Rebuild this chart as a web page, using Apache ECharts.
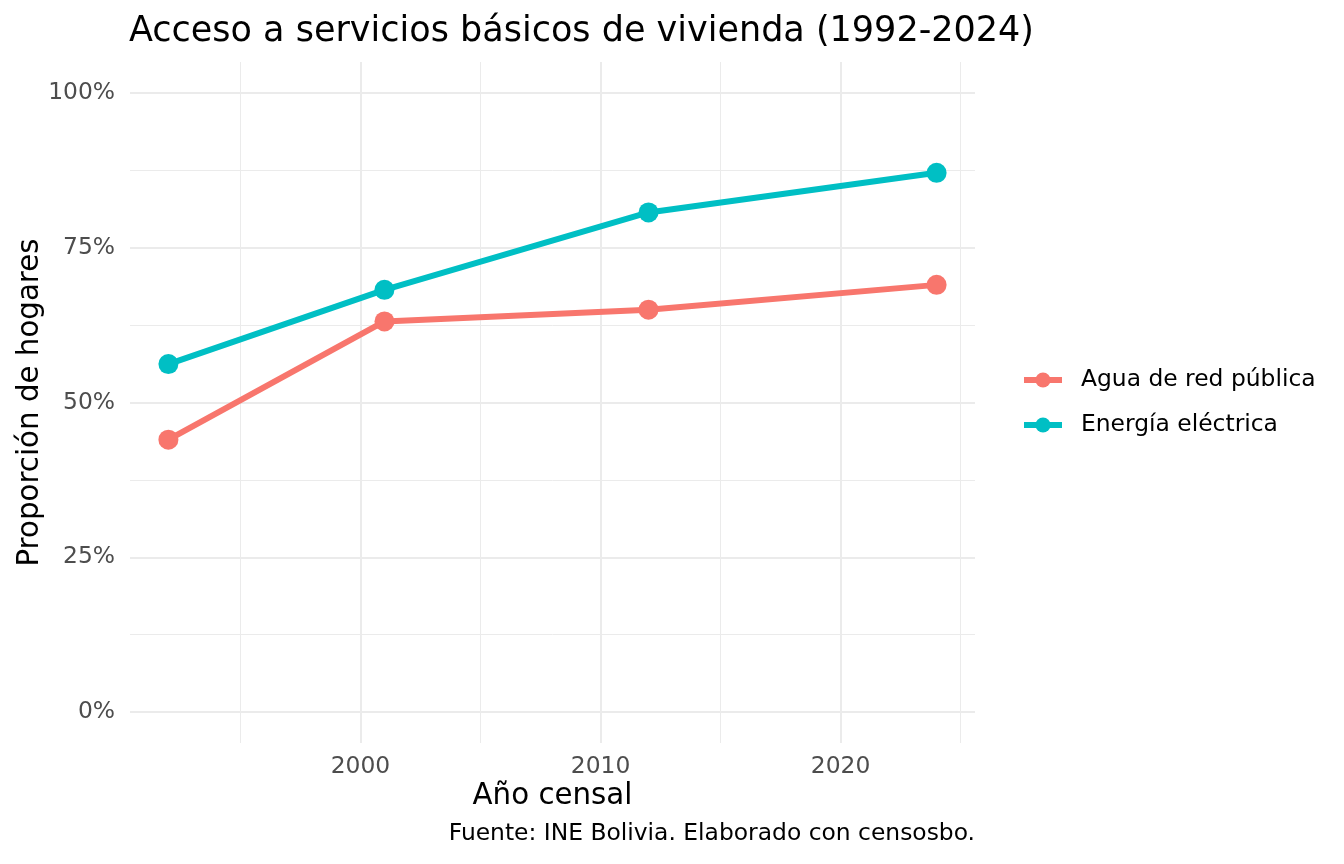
<!DOCTYPE html>
<html>
<head>
<meta charset="utf-8">
<script src="https://cdn.jsdelivr.net/npm/echarts@6/dist/echarts.min.js"></script>
<style>
  html, body { margin: 0; padding: 0; background: #fff; }
  #chart { width: 1344px; height: 864px; }
</style>
</head>
<body>
<div id="chart"></div>
<script>
// datos
var years = [1992, 2001, 2012, 2024];
var agua = [0.440, 0.631, 0.650, 0.690];
var energia = [0.562, 0.682, 0.807, 0.871];
var seriesNames = ['Agua de red pública', 'Energía eléctrica'];
var xMajor = [2000, 2010, 2020];
var xMinor = [1995, 2005, 2015, 2025];
var yMajor = [0, 0.25, 0.5, 0.75, 1];
var yMinor = [0.125, 0.375, 0.625, 0.875];

var FONT = 'DejaVu Sans';
var GRID = '#ebebeb';

function pairs(xs, ys) {
  return xs.map(function (x, i) { return [x, ys[i]]; });
}

var myChart = echarts.init(document.getElementById('chart'), null, {renderer: 'canvas'});

myChart.setOption({
  animation: false,
  backgroundColor: '#ffffff',
  textStyle: {fontFamily: FONT},
  title: {
    text: 'Acceso a servicios básicos de vivienda (1992-2024)',
    left: 129,
    top: 14,
    padding: 0,
    textStyle: {fontFamily: FONT, fontSize: 35, fontWeight: 'normal', color: '#000'}
  },
  grid: {left: 130, right: 369, top: 62, bottom: 121, containLabel: false},
  legend: {
    orient: 'vertical',
    left: 1021,
    top: 367,
    padding: 0,
    data: seriesNames,
    itemWidth: 38,
    itemHeight: 19,
    itemGap: 19,
    lineStyle: {width: 6},
    textStyle: {fontFamily: FONT, fontSize: 23.4, lineHeight: 26, color: '#000', padding: [0, 0, 0, 14]}
  },
  xAxis: [{
    type: 'value',
    min: 1990.4,
    max: 2025.6,
    name: 'Año censal',
    nameLocation: 'middle',
    nameGap: 39,
    nameMoveOverlap: false,
    nameTextStyle: {fontFamily: FONT, fontSize: 29.3, color: '#000'},
    axisLine: {show: false},
    axisTick: {show: false, customValues: xMajor},
    axisLabel: {
      customValues: xMajor, margin: 12, fontFamily: FONT, fontSize: 23.4, color: '#4d4d4d',
      formatter: function (v) { return String(v); }
    },
    splitLine: {show: true, lineStyle: {color: GRID, width: 2}}
  }, {
    type: 'value',
    min: 1990.4,
    max: 2025.6,
    axisLine: {show: false},
    axisTick: {show: false, customValues: xMinor},
    axisLabel: {show: false},
    splitLine: {show: true, lineStyle: {color: GRID, width: 1}}
  }],
  yAxis: [{
    type: 'value',
    min: -0.05,
    max: 1.05,
    name: 'Proporción de hogares',
    nameLocation: 'middle',
    nameGap: 85,
    nameMoveOverlap: false,
    nameTextStyle: {fontFamily: FONT, fontSize: 29.3, color: '#000'},
    axisLine: {show: false},
    axisTick: {show: false, customValues: yMajor},
    axisLabel: {
      customValues: yMajor, margin: 15, fontFamily: FONT, fontSize: 23.4, color: '#4d4d4d',
      formatter: function (v) { return Math.round(v * 100) + '%'; }
    },
    splitLine: {show: true, lineStyle: {color: GRID, width: 2}}
  }, {
    type: 'value',
    min: -0.05,
    max: 1.05,
    position: 'left',
    axisLine: {show: false},
    axisTick: {show: false, customValues: yMinor},
    axisLabel: {show: false},
    splitLine: {show: true, lineStyle: {color: GRID, width: 1}}
  }],
  graphic: [{
    type: 'text',
    right: 369,
    top: 822,
    style: {
      text: 'Fuente: INE Bolivia. Elaborado con censosbo.',
      fontFamily: FONT, fontSize: 23.4, fill: '#000', textAlign: 'right'
    }
  }],
  series: [{
    name: seriesNames[0],
    type: 'line',
    data: pairs(years, agua),
    symbol: 'circle',
    symbolSize: 20,
    color: '#F8766D',
    lineStyle: {width: 6, color: '#F8766D'},
    itemStyle: {color: '#F8766D'},
    z: 3
  }, {
    name: seriesNames[1],
    type: 'line',
    data: pairs(years, energia),
    symbol: 'circle',
    symbolSize: 20,
    color: '#00BFC4',
    lineStyle: {width: 6, color: '#00BFC4'},
    itemStyle: {color: '#00BFC4'},
    z: 3
  }]
});
</script>
</body>
</html>
